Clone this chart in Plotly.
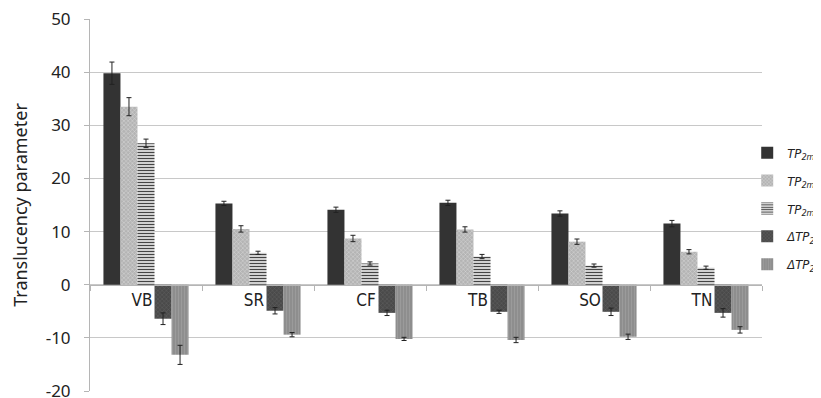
import plotly.graph_objects as go

categories = ["VB", "SR", "CF", "TB", "SO", "TN"]
series_names = ["<i>TP<sub>2mm</sub></i>", "<i>TP<sub>2mm</sub></i>", "<i>TP<sub>2mm</sub></i>",
                "<i>ΔTP<sub>23</sub></i>", "<i>ΔTP<sub>24</sub></i>"]
tp1 = [39.8, 15.3, 14.1, 15.4, 13.4, 11.5]
tp1_err = [2.1, 0.4, 0.5, 0.5, 0.5, 0.6]
tp2 = [33.5, 10.5, 8.7, 10.4, 8.1, 6.2]
tp2_err = [1.7, 0.6, 0.6, 0.5, 0.5, 0.4]
tp3 = [26.6, 6.0, 4.0, 5.3, 3.6, 3.2]
tp3_err = [0.8, 0.3, 0.3, 0.4, 0.3, 0.3]
d23 = [-6.4, -4.9, -5.3, -5.1, -5.1, -5.3]
d23_err = [1.1, 0.6, 0.5, 0.3, 0.7, 0.8]
d24 = [-13.2, -9.4, -10.2, -10.4, -9.8, -8.5]
d24_err = [1.8, 0.4, 0.3, 0.5, 0.5, 0.6]
y_ticks = [-20, -10, 0, 10, 20, 30, 40, 50]
y_tick_labels = ["-20", "-10", "0", "10", "20", "30", "40", "50"]

values = [tp1, tp2, tp3, d23, d24]
errors = [tp1_err, tp2_err, tp3_err, d23_err, d24_err]
styles = [
    dict(color="#333333", pattern=dict(shape="")),
    dict(color="#b4b4b4", pattern=dict(shape="x", fgcolor="#ffffff", size=3, solidity=0.3)),
    dict(color="#ffffff", pattern=dict(shape="-", fgcolor="#444444", bgcolor="#ffffff", size=3, solidity=0.5, fillmode="replace")),
    dict(color="#4a4a4a", pattern=dict(shape="x", fgcolor="#777777", size=3, solidity=0.3)),
    dict(color="#8c8c8c", pattern=dict(shape="|", fgcolor="#aaaaaa", size=3, solidity=0.4)),
]

fig = go.Figure()
for i, (name, v, e, st) in enumerate(zip(series_names, values, errors, styles)):
    fig.add_trace(go.Bar(
        x=categories, y=v, name=name, legendgroup=f"g{i}",
        marker=dict(color=st["color"], pattern=st["pattern"], line=dict(width=0)),
        error_y=dict(type="data", array=e, color="#222222", thickness=1, width=2.5),
    ))

# page body has an 8px margin; the figure runs 8px past the window on the right/bottom
fig.update_layout(
    width=821, height=398,
    margin=dict(l=82, r=67, t=11, b=15, autoexpand=False),
    paper_bgcolor="white", plot_bgcolor="white",
    barmode="group", bargap=0.24, bargroupgap=0,
    font=dict(family="Noto Sans", color="#222222"),
    showlegend=True,
    legend=dict(x=0.978, xanchor="left", y=0.49, yanchor="middle",
                font=dict(family="Liberation Sans Narrow, DejaVu Sans Condensed", size=13, color="#222222"),
                tracegroupgap=8, itemwidth=30, bgcolor="rgba(0,0,0,0)"),
    xaxis=dict(anchor="free", position=20/70, showline=True, linecolor="#b5b5b5", linewidth=1,
               ticks="outside", tickson="boundaries", ticklen=5, tickcolor="#b5b5b5",
               tickfont=dict(family="Liberation Sans Narrow, DejaVu Sans Condensed", size=17, color="#222222"),
               ticklabelshift=-4, showgrid=False, zeroline=False),
    yaxis=dict(range=[-20, 50], tickvals=y_ticks, ticktext=y_tick_labels, showgrid=True,
               gridcolor="#c8c8c8", gridwidth=1, ticklabeloverflow="allow",
               showline=True, linecolor="#b5b5b5", ticks="outside", ticklen=5, tickcolor="#b5b5b5",
               zeroline=False, tickfont=dict(size=17, color="#222222"), ticklabelstandoff=10,
               title=dict(text="Translucency parameter", font=dict(size=18, color="#222222"), standoff=13)),
)

fig.write_html("out.html")
